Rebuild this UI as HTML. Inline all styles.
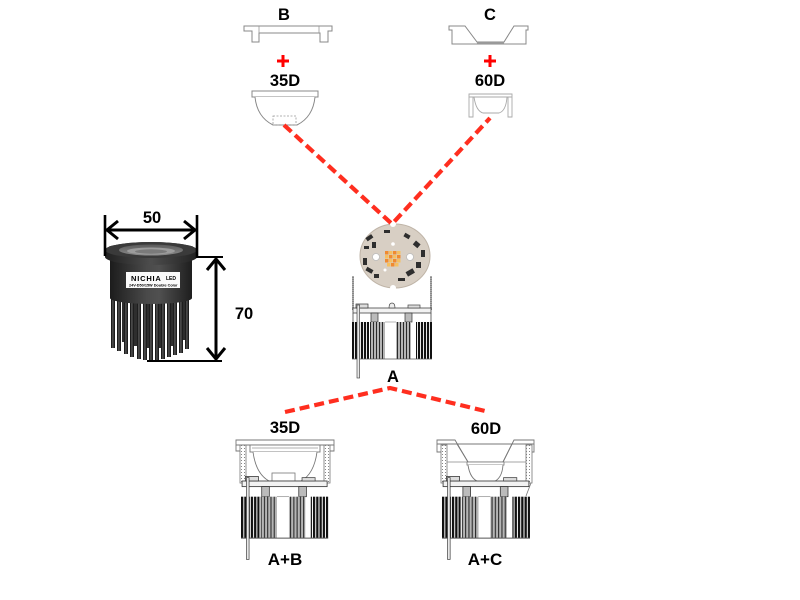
<!DOCTYPE html>
<html><head><meta charset="utf-8">
<style>
html,body{margin:0;padding:0;background:#fff;}
svg{display:block;}
text{font-family:"Liberation Sans",Arial,sans-serif;font-weight:bold;fill:#000;}
</style></head><body>
<svg width="800" height="600" viewBox="0 0 800 600" xmlns="http://www.w3.org/2000/svg">
<defs>
 <pattern id="pDark" width="3" height="10" patternUnits="userSpaceOnUse">
   <rect width="3" height="10" fill="#fff"/>
   <rect width="2.1" height="10" fill="#111"/>
 </pattern>
 <pattern id="pGray" width="3" height="10" patternUnits="userSpaceOnUse">
   <rect width="3" height="10" fill="#b5b5b5"/>
   <rect width="1" height="10" fill="#2a2a2a"/>
 </pattern>
 <pattern id="pWall" width="3" height="3" patternUnits="userSpaceOnUse">
   <rect width="3" height="3" fill="#fff"/>
   <rect x="1" y="1" width="1" height="1" fill="#888"/>
 </pattern>
 <linearGradient id="gRod" x1="0" y1="0" x2="1" y2="0">
   <stop offset="0" stop-color="#080808"/><stop offset="0.45" stop-color="#555"/><stop offset="1" stop-color="#0d0d0d"/>
 </linearGradient>
 <linearGradient id="gBody" x1="0" y1="0" x2="1" y2="0">
   <stop offset="0" stop-color="#1c1c1c"/><stop offset="0.45" stop-color="#4a4a4a"/><stop offset="0.6" stop-color="#505050"/><stop offset="1" stop-color="#1e1e1e"/>
 </linearGradient>
 <linearGradient id="gRing" x1="0" y1="0" x2="1" y2="0">
   <stop offset="0" stop-color="#202020"/><stop offset="0.5" stop-color="#4d4d4d"/><stop offset="1" stop-color="#222"/>
 </linearGradient>
 <linearGradient id="gLens" x1="0" y1="0" x2="0" y2="1">
   <stop offset="0" stop-color="#5a5a5a"/><stop offset="1" stop-color="#8a8a8a"/>
 </linearGradient>
</defs>

<!-- ===== TOP: B and C parts ===== -->
<text x="284" y="20" font-size="16.5" text-anchor="middle">B</text>
<path d="M244,26 H332 V31 H328 V42 H320 V33 H259 V42 H252 V31 H244 Z" fill="#fff" stroke="#888" stroke-width="1"/>
<line x1="259" y1="26" x2="259" y2="33" stroke="#999" stroke-width="0.8"/>
<line x1="319" y1="26" x2="319" y2="33" stroke="#999" stroke-width="0.8"/>

<text x="490" y="20" font-size="16.5" text-anchor="middle">C</text>
<path d="M449,26 H465 L477,42 H504 L514,26 H528 V30 H526 V44 H452 V30 H449 Z" fill="#fff" stroke="#888" stroke-width="1"/>
<line x1="477" y1="43" x2="504" y2="43" stroke="#aaa" stroke-width="1"/>

<!-- plus signs -->
<path d="M277,61 H289 M283,55 V67" stroke="#ff0000" stroke-width="3"/>
<path d="M484,61 H496 M490,55 V67" stroke="#ff0000" stroke-width="3"/>

<text x="285" y="86" font-size="16.5" text-anchor="middle">35D</text>
<text x="490" y="86" font-size="16.5" text-anchor="middle">60D</text>

<!-- 35D lens top -->
<rect x="252" y="91" width="66" height="6" fill="#fff" stroke="#888" stroke-width="1"/>
<path d="M255,97 Q257,117 273,125 H297 Q313,117 315,97" fill="#fff" stroke="#888" stroke-width="1"/>
<rect x="273" y="116" width="23" height="9" fill="none" stroke="#999" stroke-width="0.8" stroke-dasharray="2 1.5"/>

<!-- 60D lens top -->
<path d="M469,94 H512 V97 H469 Z" fill="#fff" stroke="#aaa" stroke-width="0.9"/>
<path d="M469,97 V117 H473 V97 M508,97 V117 H512 V97" fill="none" stroke="#aaa" stroke-width="0.9"/>
<path d="M474,97 Q476,111 483,113 H499 Q506,111 507,97" fill="none" stroke="#aaa" stroke-width="0.9"/>

<!-- ===== Left product ===== -->
<!-- back rods -->
<g fill="#2e2e2e">
 <rect x="122" y="296" width="3" height="46"/>
 <rect x="134" y="296" width="3" height="50"/>
 <rect x="146" y="296" width="3" height="52"/>
 <rect x="158" y="296" width="3" height="52"/>
 <rect x="170" y="296" width="3" height="50"/>
 <rect x="182" y="296" width="3" height="44"/>
</g>
<!-- front rods -->
<g fill="url(#gRod)">
 <rect x="111" y="296" width="4" height="52"/>
 <rect x="117" y="296" width="4" height="55"/>
 <rect x="124" y="296" width="4" height="58"/>
 <rect x="130" y="296" width="4" height="61"/>
 <rect x="137" y="296" width="4" height="63"/>
 <rect x="143" y="296" width="4" height="64"/>
 <rect x="149" y="296" width="4" height="65"/>
 <rect x="155" y="296" width="4" height="64"/>
 <rect x="161" y="296" width="4" height="63"/>
 <rect x="167" y="296" width="4" height="61"/>
 <rect x="173" y="296" width="4" height="59"/>
 <rect x="179" y="296" width="4" height="57"/>
 <rect x="185" y="296" width="4" height="53"/>
</g>
<!-- body -->
<path d="M110,258 V298 A41,6 0 0 0 192,298 V258 Z" fill="url(#gBody)"/>
<!-- ring -->
<path d="M105,250 A46,8 0 0 1 197,250 V257 A46,8 0 0 1 105,257 Z" fill="url(#gRing)"/>
<ellipse cx="151" cy="250" rx="46" ry="8" fill="#3a3a3a"/>
<ellipse cx="151" cy="250" rx="32" ry="5.5" fill="url(#gLens)"/>
<ellipse cx="151" cy="251" rx="24" ry="3.5" fill="#9c9c9c"/>
<ellipse cx="151" cy="251.5" rx="16" ry="2.2" fill="#7a7a7a"/>
<!-- label -->
<rect x="126" y="272" width="54" height="16" fill="#fafafa"/>
<text x="131" y="281" font-size="7.5" letter-spacing="0.8" fill="#222">NICHIA</text>
<text x="166" y="280" font-size="5" fill="#333">LED</text>
<text x="129" y="286.5" font-size="3.8" fill="#333">24V-D50/15W Double Color</text>

<!-- dimension lines -->
<g stroke="#000" fill="none" stroke-width="2.6" stroke-linecap="butt">
 <line x1="105" y1="215" x2="105" y2="256"/>
 <line x1="197" y1="215" x2="197" y2="258"/>
 <line x1="106" y1="230" x2="196" y2="230" stroke-width="3"/>
 <path d="M118,221 L107,230 L118,239" stroke-width="3"/>
 <path d="M184,221 L195,230 L184,239" stroke-width="3"/>
 <line x1="196" y1="257" x2="223" y2="257" stroke-width="2"/>
 <line x1="147" y1="361" x2="222" y2="361" stroke-width="2"/>
 <line x1="216" y1="259" x2="216" y2="359" stroke-width="3"/>
 <path d="M207,270 L216,259 L225,270" stroke-width="3"/>
 <path d="M207,348 L216,359 L225,348" stroke-width="3"/>
</g>
<text x="152" y="223" font-size="16.5" text-anchor="middle">50</text>
<text x="244" y="319" font-size="16.5" text-anchor="middle">70</text>

<!-- ===== Center: LED board ===== -->
<ellipse cx="395" cy="256" rx="35" ry="32" fill="#d8cfc4" stroke="#bfb4a7" stroke-width="1"/>
<circle cx="393" cy="224" r="3" fill="#fff"/>
<circle cx="393" cy="288" r="3" fill="#fff"/>
<g fill="#2e2e2e">
 <rect x="366" y="236" width="7" height="4" transform="rotate(-35 369 238)"/>
 <rect x="372" y="242" width="4" height="6"/>
 <rect x="364" y="246" width="5" height="3"/>
 <rect x="404" y="234" width="6" height="4" transform="rotate(30 407 236)"/>
 <rect x="414" y="242" width="6" height="5" transform="rotate(40 417 244)"/>
 <rect x="421" y="250" width="4" height="7"/>
 <rect x="363" y="258" width="4" height="7"/>
 <rect x="366" y="268" width="7" height="4" transform="rotate(30 369 270)"/>
 <rect x="374" y="274" width="5" height="4"/>
 <rect x="406" y="270" width="8" height="5" transform="rotate(-30 410 272)"/>
 <rect x="416" y="262" width="5" height="6"/>
 <rect x="398" y="278" width="7" height="3"/>
 <rect x="384" y="230" width="6" height="3"/>
</g>
<g fill="#f08a30">
 <rect x="385" y="251" width="3.5" height="3.5"/><rect x="389" y="251" width="3.5" height="3.5" fill="#f6c060"/>
 <rect x="393" y="251" width="3.5" height="3.5"/><rect x="397" y="251" width="3.5" height="3.5" fill="#f6c060"/>
 <rect x="385" y="255" width="3.5" height="3.5" fill="#f6c060"/><rect x="389" y="255" width="3.5" height="3.5"/>
 <rect x="393" y="255" width="3.5" height="3.5" fill="#f6c060"/><rect x="397" y="255" width="3.5" height="3.5"/>
 <rect x="385" y="259" width="3.5" height="3.5"/><rect x="389" y="259" width="3.5" height="3.5" fill="#f6c060"/>
 <rect x="393" y="259" width="3.5" height="3.5"/><rect x="397" y="259" width="3.5" height="3.5" fill="#f6c060"/>
 <rect x="387" y="263" width="3.5" height="3.5" fill="#f6c060"/><rect x="391" y="263" width="3.5" height="3.5"/>
 <rect x="395" y="263" width="3.5" height="3.5" fill="#f6c060"/>
</g>
<circle cx="376" cy="257" r="3.5" fill="#fff" stroke="#bbb" stroke-width="0.8"/>
<circle cx="410" cy="257" r="3.5" fill="#fff" stroke="#bbb" stroke-width="0.8"/>
<circle cx="393" cy="244" r="1.8" fill="#fff"/>
<circle cx="385" cy="270" r="1.5" fill="#fff"/>

<!-- A heatsink -->
<line x1="353" y1="276" x2="353" y2="310" stroke="#8a8a8a" stroke-width="2"/>
<line x1="431" y1="276" x2="431" y2="310" stroke="#8a8a8a" stroke-width="2"/>
<line x1="353" y1="276" x2="353" y2="310" stroke="#ddd" stroke-width="0.8" stroke-dasharray="1 1"/>
<line x1="431" y1="276" x2="431" y2="310" stroke="#ddd" stroke-width="0.8" stroke-dasharray="1 1"/>
<g transform="translate(352,308)">
 <line x1="1" y1="5" x2="1" y2="14" stroke="#444" stroke-width="0.8"/>
 <line x1="79" y1="5" x2="79" y2="14" stroke="#444" stroke-width="0.8"/>
 <rect x="1" y="0" width="78" height="5" fill="#f2f2f2" stroke="#444" stroke-width="0.8"/>
 <rect x="4" y="-4" width="12" height="4" fill="#ddd" stroke="#333" stroke-width="0.7"/>
 <path d="M37,0 Q37,-5 40,-5 Q43,-5 43,0 Z" fill="#eee" stroke="#444" stroke-width="0.7"/>
 <rect x="56" y="-3" width="12" height="3" fill="#ddd" stroke="#444" stroke-width="0.7"/>
 <rect x="19" y="5" width="7" height="9" fill="#bbb" stroke="#333" stroke-width="0.7"/>
 <rect x="53" y="5" width="7" height="9" fill="#bbb" stroke="#333" stroke-width="0.7"/>
 <rect x="0" y="14" width="17" height="37" fill="url(#pDark)"/>
 <rect x="18" y="14" width="15" height="37" fill="url(#pGray)"/>
 <rect x="44" y="14" width="15" height="37" fill="url(#pGray)"/>
 <rect x="64" y="14" width="16" height="37" fill="url(#pDark)"/>
 <line x1="0" y1="51" x2="80" y2="51" stroke="#555" stroke-width="0.8"/>
 <line x1="33" y1="14" x2="44" y2="14" stroke="#888" stroke-width="0.6"/>
 <rect x="5" y="-3" width="2.6" height="73" fill="#e8e8e8" stroke="#333" stroke-width="0.6"/>
</g>
<text x="393" y="382" font-size="16.5" text-anchor="middle">A</text>

<!-- ===== Bottom labels ===== -->
<text x="285" y="433" font-size="16.5" text-anchor="middle">35D</text>
<text x="486" y="434" font-size="16.5" text-anchor="middle">60D</text>
<text x="285" y="565" font-size="17" text-anchor="middle">A+B</text>
<text x="485" y="565" font-size="17" text-anchor="middle">A+C</text>

<!-- A+B assembly -->
<rect x="240" y="445" width="6" height="38" fill="url(#pWall)" stroke="#777" stroke-width="0.8"/>
<rect x="324" y="445" width="6" height="38" fill="url(#pWall)" stroke="#777" stroke-width="0.8"/>
<path d="M236,440 H334 V445 H236 Z" fill="#fff" stroke="#777" stroke-width="0.9"/>
<path d="M236,445 V451 H240 M334,445 V451 H330" fill="none" stroke="#777" stroke-width="0.9"/>
<rect x="250" y="445" width="70" height="7" fill="#fff" stroke="#777" stroke-width="0.9"/>
<line x1="252" y1="448" x2="318" y2="448" stroke="#999" stroke-width="0.7"/>
<path d="M253,452 Q256,474 269,481 H301 Q314,474 317,452" fill="#fff" stroke="#777" stroke-width="0.9"/>
<rect x="272" y="473" width="23" height="8" fill="#fff" stroke="#777" stroke-width="0.8"/>
<g transform="translate(241,481) scale(1.09,1.12)">
 <rect x="1" y="0" width="78" height="5" fill="#f2f2f2" stroke="#444" stroke-width="0.8"/>
 <rect x="4" y="-4" width="12" height="4" fill="#ddd" stroke="#333" stroke-width="0.7"/>
 <rect x="56" y="-3" width="12" height="3" fill="#ddd" stroke="#444" stroke-width="0.7"/>
 <rect x="19" y="5" width="7" height="9" fill="#bbb" stroke="#333" stroke-width="0.7"/>
 <rect x="53" y="5" width="7" height="9" fill="#bbb" stroke="#333" stroke-width="0.7"/>
 <rect x="0" y="14" width="17" height="37" fill="url(#pDark)"/>
 <rect x="18" y="14" width="15" height="37" fill="url(#pGray)"/>
 <rect x="44" y="14" width="15" height="37" fill="url(#pGray)"/>
 <rect x="64" y="14" width="16" height="37" fill="url(#pDark)"/>
 <line x1="0" y1="51" x2="80" y2="51" stroke="#555" stroke-width="0.8"/>
 <line x1="33" y1="14" x2="44" y2="14" stroke="#888" stroke-width="0.6"/>
 <rect x="5" y="-3" width="2.4" height="73" fill="#e8e8e8" stroke="#333" stroke-width="0.6"/>
</g>

<!-- A+C assembly -->
<rect x="441" y="445" width="6" height="38" fill="url(#pWall)" stroke="#777" stroke-width="0.8"/>
<rect x="526" y="445" width="6" height="38" fill="url(#pWall)" stroke="#777" stroke-width="0.8"/>
<path d="M437,440 H455 L468,462 H503 L514,440 H534 V444 H437 Z" fill="#fff" stroke="#777" stroke-width="0.9"/>
<path d="M437,444 V452 H441 M534,444 V452 H532" fill="none" stroke="#777" stroke-width="0.9"/>
<path d="M457,444 L468,462 M512,444 L503,462" stroke="#777" stroke-width="0.9" fill="none"/>
<line x1="447" y1="462" x2="526" y2="462" stroke="#888" stroke-width="0.8"/>
<rect x="467" y="462" width="37" height="3" fill="#fff" stroke="#777" stroke-width="0.8"/>
<path d="M468,465 Q470,479 479,482 H493 Q502,479 503,465" fill="#fff" stroke="#777" stroke-width="0.9"/>
<line x1="531" y1="483" x2="526" y2="496" stroke="#777" stroke-width="0.8"/>
<g transform="translate(442,481) scale(1.1,1.12)">
 <rect x="1" y="0" width="78" height="5" fill="#f2f2f2" stroke="#444" stroke-width="0.8"/>
 <rect x="4" y="-4" width="12" height="4" fill="#ddd" stroke="#333" stroke-width="0.7"/>
 <rect x="56" y="-3" width="12" height="3" fill="#ddd" stroke="#444" stroke-width="0.7"/>
 <rect x="19" y="5" width="7" height="9" fill="#bbb" stroke="#333" stroke-width="0.7"/>
 <rect x="53" y="5" width="7" height="9" fill="#bbb" stroke="#333" stroke-width="0.7"/>
 <rect x="0" y="14" width="17" height="37" fill="url(#pDark)"/>
 <rect x="18" y="14" width="15" height="37" fill="url(#pGray)"/>
 <rect x="44" y="14" width="15" height="37" fill="url(#pGray)"/>
 <rect x="64" y="14" width="16" height="37" fill="url(#pDark)"/>
 <line x1="0" y1="51" x2="80" y2="51" stroke="#555" stroke-width="0.8"/>
 <line x1="33" y1="14" x2="44" y2="14" stroke="#888" stroke-width="0.6"/>
 <rect x="5" y="-3" width="2.4" height="73" fill="#e8e8e8" stroke="#333" stroke-width="0.6"/>
</g>

<!-- ===== Red dashed connectors ===== -->
<g stroke="#ff2e1f" stroke-width="4.2" fill="none" stroke-dasharray="10 5">
 <path d="M284,125 L392,224 L490,118"/>
 <path d="M285,412 L390,388 L485,411"/>
</g>
</svg>
</body></html>
